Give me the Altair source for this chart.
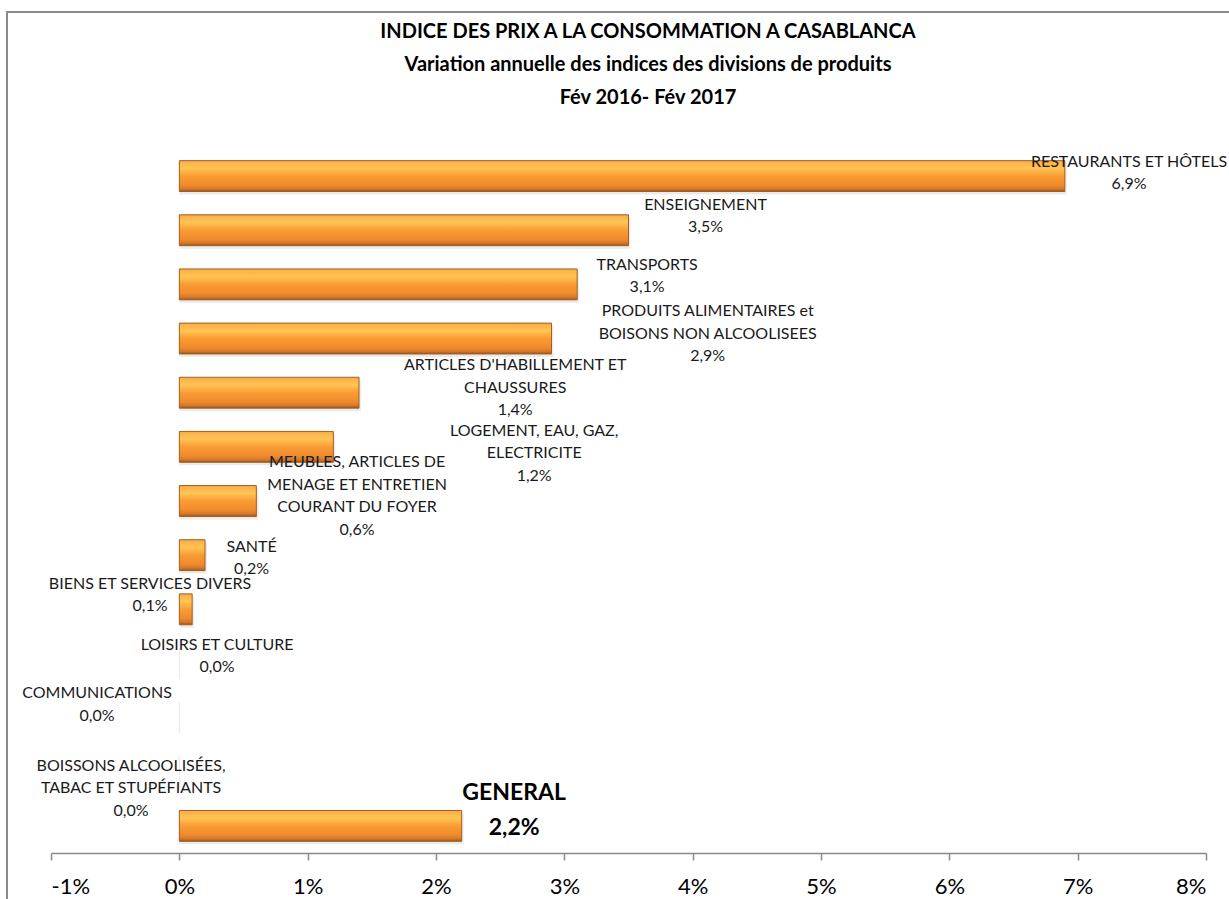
import altair as alt
import pandas as pd

categories = [
    "RESTAURANTS ET HÔTELS", "ENSEIGNEMENT", "TRANSPORTS",
    "PRODUITS ALIMENTAIRES et BOISONS NON ALCOOLISEES",
    "ARTICLES D'HABILLEMENT ET CHAUSSURES",
    "LOGEMENT, EAU, GAZ, ELECTRICITE",
    "MEUBLES, ARTICLES DE MENAGE ET ENTRETIEN COURANT DU FOYER",
    "SANTÉ", "BIENS ET SERVICES DIVERS", "LOISIRS ET CULTURE",
    "COMMUNICATIONS", "BOISSONS ALCOOLISÉES, TABAC ET STUPÉFIANTS", "GENERAL",
]
values = [6.9, 3.5, 3.1, 2.9, 1.4, 1.2, 0.6, 0.2, 0.1, 0.0, 0.0, 0.0, 2.2]
label_lines = [
    ["RESTAURANTS ET HÔTELS"], ["ENSEIGNEMENT"], ["TRANSPORTS"],
    ["PRODUITS ALIMENTAIRES et", "BOISONS NON ALCOOLISEES"],
    ["ARTICLES D'HABILLEMENT ET", "CHAUSSURES"],
    ["LOGEMENT, EAU, GAZ,", "ELECTRICITE"],
    ["MEUBLES, ARTICLES DE", "MENAGE ET ENTRETIEN", "COURANT DU FOYER"],
    ["SANTÉ"], ["BIENS ET SERVICES DIVERS"], ["LOISIRS ET CULTURE"],
    ["COMMUNICATIONS"], ["BOISSONS ALCOOLISÉES,", "TABAC ET STUPÉFIANTS"], ["GENERAL"],
]
# label anchors: x in %, y (first line) in row units from the top
label_x = [7.40, 4.10, 3.645, 4.117, 2.617, 2.765, 1.385, 0.563, -0.228, 0.294, -0.641, -0.376, 2.609]
label_y = [0.240, 1.034, 2.142, 2.992, 3.989, 5.207, 5.780, 7.349, 8.032, 9.159, 10.046, 11.393, 11.891]
title_lines = [
    "INDICE DES PRIX A LA CONSOMMATION A CASABLANCA",
    "Variation annuelle des indices des divisions de produits",
    "Fév 2016- Fév 2017",
]

def fmt(v):
    return f"{v:.1f}".replace(".", ",") + "%"

df = pd.DataFrame({
    "cat": categories,
    "value": values,
    "label": ["\n".join(l + [fmt(v)]) for l, v in zip(label_lines, values)],
    "lx": label_x,
    "ly": label_y,
    "general": [c == "GENERAL" for c in categories],
})
tdf = pd.DataFrame({"t": title_lines})

FONT = "Lato"

grad = alt.LinearGradient(
    gradient="linear", x1=0, x2=0, y1=0, y2=1,
    stops=[
        alt.GradientStop(offset=0.0, color="#F2A95C"),
        alt.GradientStop(offset=0.08, color="#FDB548"),
        alt.GradientStop(offset=0.25, color="#FFC453"),
        alt.GradientStop(offset=0.5, color="#FA9C33"),
        alt.GradientStop(offset=0.8, color="#EE8A2C"),
        alt.GradientStop(offset=0.92, color="#D47728"),
        alt.GradientStop(offset=1.0, color="#925520"),
    ],
)

xscale = alt.Scale(domain=[-1, 8], nice=False)
xaxis = alt.Axis(
    values=list(range(-1, 9)), labelExpr="datum.value + '%'", grid=False,
    domainColor="#8a8a8a", domainWidth=1.5, tickColor="#8a8a8a", tickWidth=1.5,
    tickSize=7, labelFontSize=22, labelFont=FONT, labelColor="#000000",
    labelPadding=16, title=None,
)
ybar = alt.Y("cat:N", sort=categories, axis=None,
             scale=alt.Scale(paddingInner=0.43, paddingOuter=0.215))

frame = alt.Chart(df).mark_rect(
    fill=None, stroke="#8a8a8a", strokeWidth=1.5
).encode(
    x=alt.value(-44), x2=alt.value(1300), y=alt.value(-137), y2=alt.value(1100)
)

bars_base = alt.Chart(df).encode(
    x=alt.X("value:Q", scale=xscale, axis=xaxis),
    x2=alt.datum(0),
    y=ybar,
)

shadow = bars_base.mark_bar(
    color="#000000", xOffset=2, yOffset=3
).encode(
    opacity=alt.condition("datum.value == 0", alt.value(0), alt.value(0.08)),
)

bars = bars_base.mark_bar(
    color=grad, stroke="#A0601F", strokeWidth=1
).encode(
    strokeOpacity=alt.condition("datum.value == 0", alt.value(0.08), alt.value(1)),
    fillOpacity=alt.condition("datum.value == 0", alt.value(0.1), alt.value(1)),
)

bars_layer = alt.layer(shadow, bars)

yq = alt.Scale(domain=[0, 13], reverse=True, nice=False, zero=False)

labels = alt.Chart(df).transform_filter("!datum.general").mark_text(
    lineBreak="\n", align="center", baseline="middle", lineHeight=22.5,
    fontSize=16, font=FONT, color="#1a1a1a",
).encode(
    x=alt.X("lx:Q", scale=xscale),
    y=alt.Y("ly:Q", scale=yq, axis=None),
    text="label:N",
)

glabel = alt.Chart(df).transform_filter("datum.general").mark_text(
    lineBreak="\n", align="center", baseline="middle", lineHeight=35,
    fontSize=23, font=FONT, fontWeight="bold", color="#000000",
).encode(
    x=alt.X("lx:Q", scale=xscale),
    y=alt.Y("ly:Q", scale=yq, axis=None),
    text="label:N",
)

title_layers = []
for i, y in enumerate([-117, -84, -51]):
    title_layers.append(
        alt.Chart(tdf).transform_filter(f"datum.t == {title_lines[i]!r}").mark_text(
            font=FONT, fontSize=20, fontWeight="bold", color="#000000",
            align="center", baseline="middle",
        ).encode(x=alt.value(597), y=alt.value(y), text="t:N")
    )

chart = alt.layer(frame, bars_layer, labels, glabel, *title_layers).resolve_scale(
    y="independent"
).properties(
    width=1155, height=704,
    autosize=alt.AutoSizeParams(type="none"),
    padding={"left": 51, "top": 149, "right": 23, "bottom": 46},
).configure(background="white").configure_view(stroke="transparent", strokeWidth=0)

chart.save("out.html", embed_options={"renderer": "svg", "actions": False})
